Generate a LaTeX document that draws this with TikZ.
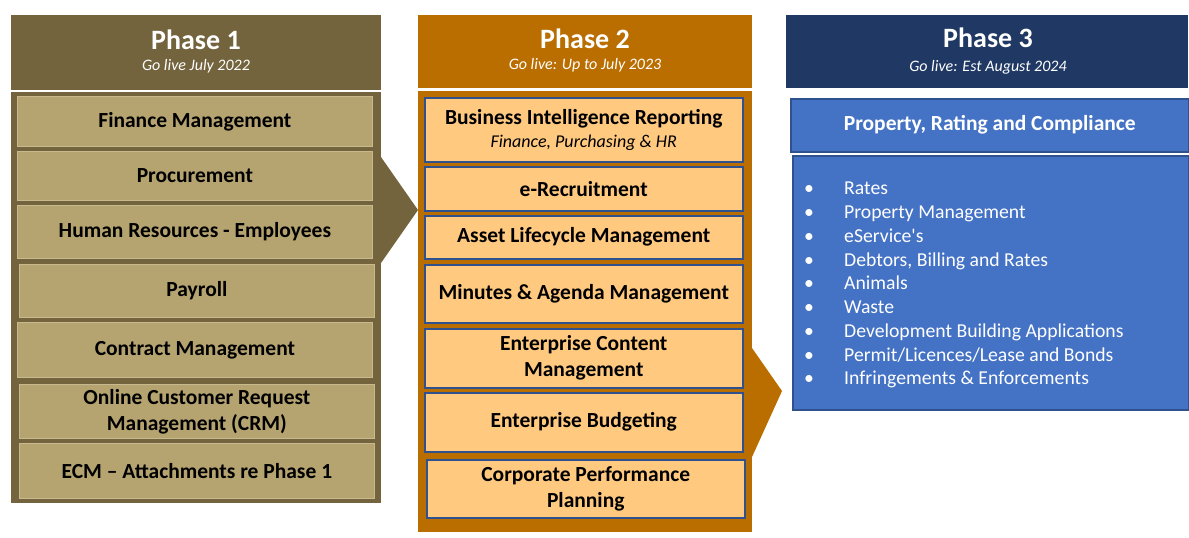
\documentclass[tikz,border=0pt]{standalone}
\usepackage{fontspec}
\setmainfont{Carlito}
\newfontfamily\itemfont{Carlito}
\usetikzlibrary{positioning}

\definecolor{p1dark}{RGB}{115,100,62}
\definecolor{p1fill}{RGB}{181,163,112}
\definecolor{p1line}{RGB}{200,186,142}
\definecolor{p2dark}{RGB}{186,110,0}
\definecolor{p2fill}{RGB}{255,201,128}
\definecolor{p2line}{RGB}{47,82,143}
\definecolor{p3dark}{RGB}{32,56,100}
\definecolor{p3blue}{RGB}{68,114,196}
\definecolor{p3line}{RGB}{47,82,143}

\begin{document}
\begin{tikzpicture}[x=1pt, y=-1pt]
    \tikzset{panel/.style = {anchor=north west, inner sep=0pt, outer sep=0pt},
             title/.style = {text=white, inner sep=0pt, font=\fontsize{28}{30}\selectfont\bfseries},
             golive/.style = {text=white, inner sep=0pt, font=\fontsize{16}{18}\selectfont\itshape},
             p1box/.style = {anchor=north west, inner sep=0pt, fill=p1fill, draw=p1line, line width=0.8pt,
                             minimum width=355pt, align=center, font=\fontsize{21.5}{26}\selectfont\bfseries},
             p2box/.style = {anchor=north west, inner sep=0pt, fill=p2fill, draw=p2line, line width=1.5pt,
                             minimum width=318pt, align=center, font=\fontsize{21.5}{26}\selectfont\bfseries},
             p3box/.style = {anchor=north west, inner sep=0pt, fill=p3blue, draw=p3line, line width=1.5pt}
            }
    \useasboundingbox (0,0) rectangle (1189,538);

    % phase 1
    \node (ph1) [panel, fill=p1dark, minimum width=370pt, minimum height=75pt] at (11,15) {};
    \node (ph1title) [title] at (196,40) {Phase 1};
    \node (ph1live) [golive] at (196,66) {Go live July 2022};
    \node (body1) [panel, fill=p1dark, minimum width=370pt, minimum height=411pt] at (11,92) {};
    \fill[p1dark] (381,157) -- (418,210) -- (381,263) -- cycle;
    \node (fin) [p1box, minimum height=50pt] at (17,96) {Finance Management};
    \node (proc) [p1box, minimum height=49pt] at (17,151) {Procurement};
    \node (hr) [p1box, minimum height=53pt] at (17,205) {Human Resources - Employees};
    \node (pay) [p1box, minimum height=53pt] at (19,264) {Payroll};
    \node (cont) [p1box, minimum height=55pt] at (17,322) {Contract Management};
    \node (crm) [p1box, minimum height=54pt] at (19,384) {Online Customer Request\\Management (CRM)};
    \node (ecm1) [p1box, minimum height=55pt] at (19,443) {ECM – Attachments re Phase 1};

    % phase 2
    \node (ph2) [panel, fill=p2dark, minimum width=334pt, minimum height=73pt] at (418,15) {};
    \node (ph2title) [title] at (585,39) {Phase 2};
    \node (ph2live) [golive] at (585,65) {Go live: Up to July 2023};
    \node (body2) [panel, fill=p2dark, minimum width=334pt, minimum height=441pt] at (418,91) {};
    \fill[p2dark] (752,348) -- (782,391) -- (752,457) -- cycle;
    \node (bi) [p2box, minimum height=64pt] at (424,97)
        {Business Intelligence Reporting\\[-3pt]{\fontsize{18}{22}\selectfont\mdseries\itshape Finance, Purchasing \& HR}};
    \node (recr) [p2box, minimum height=44pt] at (424,166) {e-Recruitment};
    \node (asset) [p2box, minimum height=43pt] at (424,215) {Asset Lifecycle Management};
    \node (mins) [p2box, minimum height=58pt] at (424,264) {Minutes \& Agenda Management};
    \node (ecm2) [p2box, minimum height=59pt] at (424,328) {Enterprise Content\\Management};
    \node (budg) [p2box, minimum height=59pt] at (424,392) {Enterprise Budgeting};
    \node (perf) [p2box, minimum height=58pt] at (426,459) {Corporate Performance\\Planning};

    % phase 3
    \node (ph3) [panel, fill=p3dark, minimum width=402pt, minimum height=73pt] at (786,15) {};
    \node (ph3title) [title] at (988,38) {Phase 3};
    \node (ph3live) [golive] at (988,67) {Go live: Est August 2024};
    \node (prc) [p3box, minimum width=398pt, minimum height=53pt, text=white,
                 font=\fontsize{21.5}{24}\selectfont\bfseries] at (790,98) {Property, Rating and Compliance};
    \node (lst) [p3box, minimum width=396pt, minimum height=254pt] at (792,155) {};
    \node (items) [anchor=north west, inner sep=0pt, text=white, align=left,
                   font=\itemfont\fontsize{19.7}{23.75}\selectfont] at (804,182)
        {\makebox[40pt][l]{•}Rates\\
         \makebox[40pt][l]{•}Property Management\\
         \makebox[40pt][l]{•}eService's\\
         \makebox[40pt][l]{•}Debtors, Billing and Rates\\
         \makebox[40pt][l]{•}Animals\\
         \makebox[40pt][l]{•}Waste\\
         \makebox[40pt][l]{•}Development Building Applications\\
         \makebox[40pt][l]{•}Permit/Licences/Lease and Bonds\\
         \makebox[40pt][l]{•}Infringements \& Enforcements};
\end{tikzpicture}
\end{document}
